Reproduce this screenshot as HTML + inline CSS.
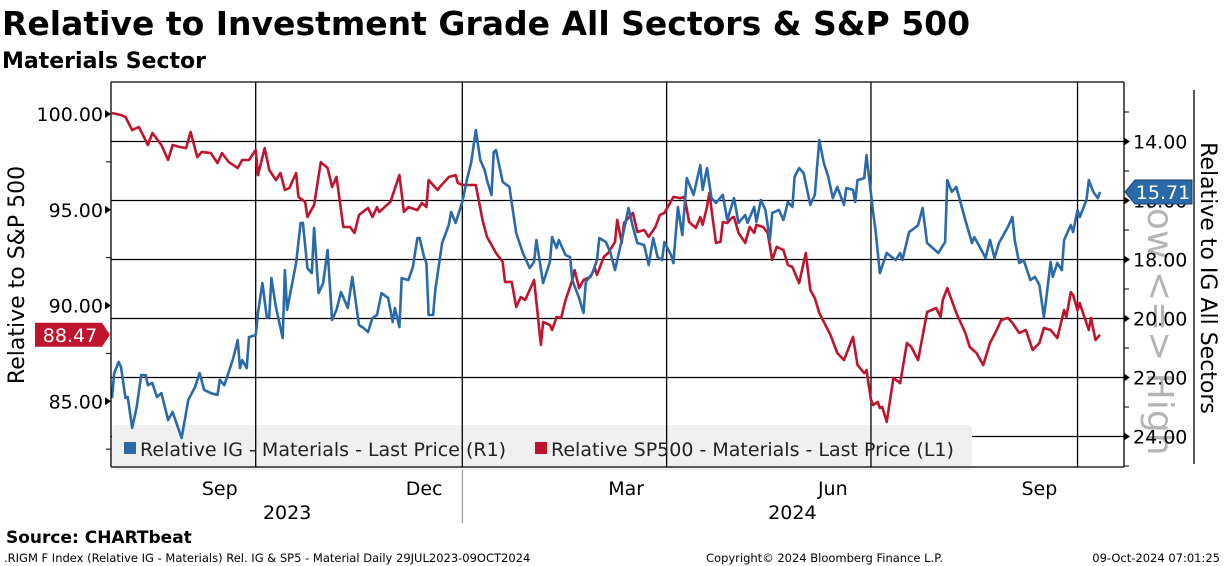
<!DOCTYPE html>
<html><head><meta charset="utf-8">
<style>
body{margin:0;background:#fff;width:1224px;height:566px;overflow:hidden;font-family:"Liberation Sans","DejaVu Sans",sans-serif}
svg{position:absolute;left:0;top:0}
</style></head>
<body>
<svg id="chart" width="1224" height="566" font-family="'DejaVu Sans','Liberation Sans',sans-serif">
<text x="2" y="35" font-size="33" font-weight="bold">Relative to Investment Grade All Sectors &amp; S&amp;P 500</text>
<text x="2" y="68" font-size="22" font-weight="bold">Materials Sector</text>
<g id="grid"></g>
<rect x="112" y="425" width="860" height="45" rx="4" fill="#f0f0f0"/>
<g id="gridv"></g>
<g id="series"></g>
<text transform="translate(1148,322) rotate(90)" text-anchor="middle" font-size="36" fill="#b4b4b4">Low &lt;=&gt; High</text>
<g id="axes"></g>
<g>
<rect x="124" y="442" width="12" height="12" fill="#2a6aa8"/>
<text x="140" y="456" font-size="19" fill="#222">Relative IG - Materials - Last Price (R1)</text>
<rect x="535" y="442" width="12" height="12" fill="#c0142e"/>
<text x="551" y="456" font-size="19" fill="#222">Relative SP500 - Materials - Last Price (L1)</text>
</g>
<text transform="translate(24,275) rotate(-90)" text-anchor="middle" font-size="22">Relative to S&amp;P 500</text>
<text transform="translate(1201,278) rotate(90)" text-anchor="middle" font-size="22">Relative to IG All Sectors</text>
<text x="6" y="543" font-size="17" font-weight="bold">Source: CHARTbeat</text>
<text x="4" y="562" font-size="11.5">.RIGM F Index (Relative IG - Materials) Rel. IG &amp; SP5 - Material  Daily 29JUL2023-09OCT2024</text>
<text x="706" y="562" font-size="11.5">Copyright© 2024 Bloomberg Finance L.P.</text>
<text x="1220" y="562" font-size="11.5" text-anchor="end">09-Oct-2024 07:01:25</text>
</svg>
<script>
const redDays=[0,4,6,9,12,16,18,22,25,27,30,33,35,38,40,44,47,49,52,56,58,61,64,65,68,70,73,75,77,79,82,83,86,87,90,93,96,98,100,103,106,108,110,114,116,118,119,124,128,130,132,136,138,140,141,145,146,150,153,154,156,162,165,167,171,174,175,178,180,182,184,188,191,192,195,196,198,200,202,205,206,208,210,213,215,216,219,221,224,225,227,228,232,234,237,239,242,244,246,250,253,255,257,260,262,263,265,266,269,271,272,274,276,277,279,282,284,286,287,290,292,294,296,299,301,303,306,309,311,313,315,320,323,326,330,332,335,336,338,339,341,342,343,345,348,351,354,356,359,363,367,369,370,372,376,380,382,385,388,391,394,396,399,401,404,407,410,413,415,418,421,424,425,427,428,430,431,432,435,436,438,440];
const redValues=[100.05,99.95,99.84,99.16,99.32,98.38,99.01,98.38,97.6,98.38,98.28,98.22,99.06,97.75,98.02,97.96,97.44,97.96,97.49,97.18,97.6,97.6,98.12,96.81,98.22,97.08,96.55,96.92,96.03,96.14,96.92,95.67,95.41,94.62,95.25,97.49,97.18,96.19,96.71,94.1,94.1,93.79,94.73,95.09,94.62,95.14,94.88,95.41,96.81,94.88,95.14,94.98,95.35,95.14,96.55,96.03,96.19,96.71,96.81,96.4,96.29,96.29,94.47,93.58,92.74,92.27,91.23,91.23,89.92,90.44,90.29,91.33,87.94,89.14,88.98,88.72,89.4,89.35,90.29,91.33,91.85,90.91,91.33,91.49,91.96,91.6,92.54,92.74,93.32,94.47,93.27,94.31,94.83,93.84,93.94,93.58,94.1,94.73,94.83,95.67,95.61,95.67,94.36,94.05,94.62,94.21,95.14,95.87,93.27,93.32,94.36,94.31,94.57,94.62,93.79,93.27,94.1,93.79,94.21,94.1,93.79,92.38,93.06,92.9,92.11,92.01,91.17,92.74,90.81,90.39,89.61,88.46,87.52,87.15,88.36,86.89,86.47,86.63,85.07,84.8,84.96,84.65,84.7,83.92,86.21,85.95,88.04,87.83,87.15,89.66,89.87,89.4,90.29,90.91,89.61,88.57,87.83,87.52,86.89,88.04,88.72,89.24,89.35,89.09,88.57,88.72,87.68,88.04,88.83,88.72,88.3,89.76,89.4,90.7,90.55,89.76,90.13,89.76,88.72,89.35,88.2,88.47];
const blueDays=[0,1,3,4,6,7,9,11,13,15,16,18,20,22,25,27,31,34,37,39,41,44,47,48,50,53,54,56,57,58,60,61,64,65,67,69,70,71,73,76,77,78,82,84,85,87,89,90,92,94,96,98,100,102,105,107,110,112,114,116,118,120,123,125,126,128,129,132,134,136,137,139,140,141,143,144,147,150,151,153,156,158,160,162,164,166,167,169,170,171,174,177,180,183,186,188,189,192,195,196,198,199,202,204,205,208,210,211,214,216,217,220,222,224,226,228,230,232,234,237,239,241,243,245,246,249,250,252,254,256,259,262,263,265,267,269,272,274,277,279,282,283,286,287,289,291,293,294,297,299,301,303,304,306,308,311,313,315,317,319,321,323,326,327,330,331,332,335,336,339,340,342,345,349,351,352,355,358,359,361,363,368,371,372,374,376,380,383,384,386,389,391,393,395,397,399,401,402,404,406,409,411,413,415,416,418,419,421,423,424,427,428,430,431,434,435,437,439,440];
const blueValues=[22.7,21.85,21.47,21.64,22.7,22.66,23.71,23.0,21.92,21.92,22.26,22.19,22.66,22.53,23.44,23.17,24.05,22.76,22.32,21.85,22.42,22.53,22.59,22.08,22.26,21.58,21.34,20.73,21.68,21.41,21.68,20.63,20.56,19.81,18.8,19.98,19.95,18.63,19.61,20.66,18.36,19.71,18.12,16.76,16.76,18.29,18.46,16.93,19.14,18.8,17.68,20.05,19.71,19.1,19.64,18.59,20.22,20.32,20.46,19.98,19.88,19.14,19.31,20.12,19.64,20.29,18.63,18.7,18.25,17.27,17.27,17.92,18.12,19.88,19.88,19.03,17.44,16.83,16.39,16.76,16.05,15.31,14.69,13.61,14.63,14.97,15.31,15.81,14.36,14.29,15.37,15.54,17.1,17.78,18.29,18.08,17.34,18.8,18.08,17.24,17.61,17.34,17.85,17.92,18.7,19.31,19.81,18.76,18.46,18.02,17.27,17.41,17.78,18.36,17.68,17.0,16.25,16.9,17.44,17.51,18.19,17.27,17.92,18.02,17.41,17.85,18.12,16.22,17.17,15.24,15.81,14.8,15.64,14.9,15.92,16.08,15.81,16.66,15.92,16.76,16.49,16.76,16.22,16.73,15.98,16.32,17.34,16.42,16.32,16.66,16.05,16.22,15.2,14.9,15.07,16.15,15.81,13.95,14.73,15.2,15.92,15.54,16.15,15.58,15.64,16.05,15.31,15.24,14.46,16.42,17.0,18.46,17.78,18.02,17.78,18.02,17.07,16.9,16.83,16.25,17.44,17.78,17.41,15.31,15.71,15.54,16.66,17.44,17.24,17.51,17.95,17.34,17.95,17.44,17.17,16.9,16.56,17.34,18.12,18.02,18.7,18.59,18.86,19.95,19.37,18.08,18.59,18.12,18.36,17.34,16.83,17.07,16.32,16.56,15.98,15.31,15.71,15.92,15.71];
const leftTicks=[85,90,95,100];
const rightTicks=[14,16,18,20,22,24];
const gridDays=[64,156,247,338,430];
const monthLabels=["Sep","Dec","Mar","Jun","Sep"];
const monthDays=[48,139,229,321,413];
const yearLabels=["2023","2024"];
const yearDays=[78,303];

const X0=112,X1=1100,Y_L=114,PL=19.15,Y_R=141.5,PR=29.5,PTOP=82,PBOT=467,PL_X=111,PR_X=1124;
const xs=d=>X0+(X1-X0)*d/440;
const yl=v=>Y_L+(100-v)*PL;
const yr=v=>Y_R+(v-14)*PR;
const NS="http://www.w3.org/2000/svg";
function mk(tag,attrs,parent){const e=document.createElementNS(NS,tag);for(const k in attrs)e.setAttribute(k,attrs[k]);parent.appendChild(e);return e;}
const grid=document.getElementById('grid'),gridv=document.getElementById('gridv'),series=document.getElementById('series'),axes=document.getElementById('axes');

rightTicks.forEach(v=>{
 const l=mk('line',{x1:PL_X,x2:PR_X,y1:yr(v),y2:yr(v),stroke:'#000','stroke-width':1.3},grid);
 
 
});
gridDays.forEach(d=>{
 const l=mk('line',{x1:xs(d),x2:xs(d),y1:PTOP,y2:PBOT,stroke:'#000','stroke-width':1.3},gridv);
 
 
});
[[PL_X,PTOP,PR_X,PTOP],[PL_X,PTOP,PL_X,PBOT],[PL_X,PBOT,PR_X,PBOT],[PR_X,PTOP,PR_X,PBOT],[1194,90,1194,464]].forEach(a=>{
 const l=mk('line',{x1:a[0],y1:a[1],x2:a[2],y2:a[3],stroke:'#000','stroke-width':1.3},axes);
 
 
});
function path(days,vals,yf,color,name){
 const d=days.map((dd,i)=>(i?'L':'M')+xs(dd).toFixed(1)+','+yf(vals[i]).toFixed(1)).join('');
 const p=mk('path',{d:d,fill:'none',stroke:color,'stroke-width':2.6,'stroke-linejoin':'round'},series);
 
 
}
path(redDays,redValues,yl,'#c0142e','line-relative-sp500');
path(blueDays,blueValues,yr,'#2a6aa8','line-relative-ig');

for(let v=82.5;v<=100;v+=2.5){
 const t=mk('line',{x1:PL_X-5,x2:PL_X,y1:yl(v),y2:yl(v),stroke:'#000','stroke-width':1},axes);
 
 
}
leftTicks.forEach(v=>{
 const t=mk('text',{x:103,y:yl(v)+7,'text-anchor':'end','font-size':19},axes);
 t.textContent=v.toFixed(2);
 
 
 const a=mk('path',{d:`M${PL_X-6},${yl(v)-4}L${PL_X},${yl(v)}L${PL_X-6},${yl(v)+4}Z`,fill:'#000'},axes);
 
 
});
for(let v=13;v<=25;v+=1){
 const t=mk('line',{x1:PR_X,x2:PR_X+5,y1:yr(v),y2:yr(v),stroke:'#000','stroke-width':1},axes);
 
 
}
rightTicks.forEach(v=>{
 const t=mk('text',{x:1133,y:yr(v)+7,'font-size':19},axes);
 t.textContent=v.toFixed(2);
 
 
 const a=mk('path',{d:`M${PR_X},${yr(v)-4}L${PR_X+6},${yr(v)}L${PR_X},${yr(v)+4}Z`,fill:'#000'},axes);
 
 
});
monthLabels.forEach((m,i)=>{
 const t=mk('text',{x:xs(monthDays[i]),y:495,'text-anchor':'middle','font-size':19},axes);
 t.textContent=m;
 
 
});
yearLabels.forEach((m,i)=>{
 const t=mk('text',{x:xs(yearDays[i]),y:519,'text-anchor':'middle','font-size':19},axes);
 t.textContent=m;
 
 
});
const sep=mk('line',{x1:xs(156),x2:xs(156),y1:470,y2:523,stroke:'#888','stroke-width':1},axes);



const lr=redValues[redValues.length-1],yR=yl(lr);
const rt=mk('path',{d:`M35,${yR-12}L102,${yR-12}L110,${yR}L102,${yR+12}L35,${yR+12}Z`,fill:'#c0142e'},axes);


const rtt=mk('text',{x:70,y:yR+7,'text-anchor':'middle','font-size':19,fill:'#fff'},axes);
rtt.textContent=lr.toFixed(2);


const lb=blueValues[blueValues.length-1],yB=yr(lb);
const bt=mk('path',{d:`M1125,${yB}L1135,${yB-12}L1192,${yB-12}L1192,${yB+12}L1135,${yB+12}Z`,fill:'#2a6aa8',stroke:'#173f66'},axes);


const btt=mk('text',{x:1163,y:yB+7,'text-anchor':'middle','font-size':19,fill:'#fff'},axes);
btt.textContent=lb.toFixed(2);


</script>
</body></html>
